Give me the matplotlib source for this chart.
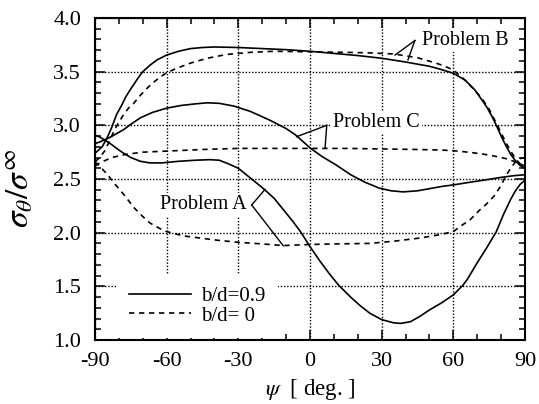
import matplotlib
matplotlib.use("Agg")
import matplotlib.pyplot as plt
from matplotlib.ticker import MultipleLocator

plt.rcParams['font.family'] = ['Liberation Serif', 'DejaVu Serif']
plt.rcParams['mathtext.fontset'] = 'stix'

# ---------------- data ----------------
psi_B09 = [-90, -87, -85, -83, -81, -79, -77, -75, -72, -70, -67, -64, -60, -55, -50, -45, -40,
           -30, -20, -10, 0, 10, 20, 30, 40, 50, 55, 60, 65, 69, 72, 74, 76, 78, 80, 82, 84, 86, 88, 90]
val_B09 = [2.74, 2.80, 2.88, 2.98, 3.10, 3.18, 3.27, 3.34, 3.44, 3.50, 3.56, 3.61, 3.655, 3.69, 3.715,
           3.725, 3.73, 3.725, 3.715, 3.705, 3.69, 3.67, 3.65, 3.625, 3.59, 3.55, 3.52, 3.485, 3.42,
           3.33, 3.235, 3.17, 3.09, 3.00, 2.90, 2.81, 2.73, 2.67, 2.625, 2.60]

psi_B0 = [-90, -88, -86, -84, -82, -80, -78, -76, -74, -71, -68, -65, -62, -60, -56, -50, -43, -35,
          -25, -15, 0, 15, 25, 35, 45, 52, 56, 60, 64, 68, 72, 75, 78, 80, 82, 84, 86, 88, 90]
val_B0 = [2.66, 2.70, 2.76, 2.85, 2.95, 3.03, 3.10, 3.16, 3.20, 3.28, 3.35, 3.41, 3.46, 3.49, 3.53,
          3.58, 3.625, 3.66, 3.68, 3.69, 3.685, 3.68, 3.675, 3.665, 3.63, 3.585, 3.555, 3.515, 3.44,
          3.35, 3.25, 3.15, 3.02, 2.93, 2.84, 2.76, 2.69, 2.64, 2.60]

psi_C09 = [-90, -88, -86, -84, -82, -78, -75, -71, -66, -60, -54, -48, -43, -38, -32, -25, -17, -10,
           -6, 0, 5, 11, 17, 23, 29, 34, 39, 45, 50, 55, 60, 67, 73, 80, 85, 90]
val_C09 = [2.83, 2.845, 2.865, 2.885, 2.91, 2.96, 3.01, 3.07, 3.12, 3.16, 3.185, 3.20, 3.21, 3.205,
           3.18, 3.13, 3.05, 2.97, 2.91, 2.79, 2.71, 2.63, 2.54, 2.47, 2.415, 2.39, 2.38, 2.39, 2.41,
           2.43, 2.445, 2.47, 2.49, 2.515, 2.53, 2.54]

psi_C0 = [-90, -88, -86, -83, -80, -77, -70, -60, -45, -30, -15, 0, 15, 30, 45, 55, 62, 68, 73, 78,
          82, 86, 90]
val_C0 = [2.62, 2.65, 2.67, 2.70, 2.715, 2.73, 2.75, 2.76, 2.775, 2.785, 2.785, 2.785, 2.785, 2.78,
          2.775, 2.77, 2.76, 2.745, 2.73, 2.71, 2.69, 2.66, 2.62]

psi_A09 = [-90, -88, -86, -83, -80, -78, -75, -71, -67, -62, -55, -48, -42, -38, -34, -30, -25, -20,
           -15, -11, -7, -4, 0, 4, 8, 12, 17, 21, 25, 30, 35, 38, 42, 46, 50, 55, 60, 64, 66, 70, 74,
           78, 81, 84, 86, 88, 90]
val_A09 = [2.91, 2.89, 2.865, 2.82, 2.77, 2.74, 2.70, 2.665, 2.65, 2.65, 2.665, 2.675, 2.68, 2.675,
           2.64, 2.60, 2.51, 2.42, 2.32, 2.21, 2.10, 2.01, 1.87, 1.74, 1.62, 1.51, 1.40, 1.32, 1.25,
           1.19, 1.16, 1.155, 1.17, 1.22, 1.28, 1.345, 1.42, 1.51, 1.57, 1.72, 1.86, 2.01, 2.17,
           2.31, 2.39, 2.45, 2.49]

psi_A0 = [-90, -88, -86, -84, -82, -80, -77, -74, -70, -67, -63, -60, -53, -46, -39, -30, -20, -11,
          0, 10, 25, 35, 46, 54, 60, 63, 67, 71, 74, 77, 80, 82, 84, 86, 88, 90]
val_A0 = [2.66, 2.62, 2.57, 2.52, 2.46, 2.41, 2.33, 2.24, 2.15, 2.09, 2.04, 2.01, 1.97, 1.95, 1.93,
          1.91, 1.895, 1.88, 1.89, 1.895, 1.90, 1.92, 1.95, 1.98, 2.01, 2.06, 2.12, 2.21, 2.27, 2.34,
          2.44, 2.53, 2.60, 2.66, 2.69, 2.70]

x_ticks = [-90, -60, -30, 0, 30, 60, 90]
y_ticks = [1.0, 1.5, 2.0, 2.5, 3.0, 3.5, 4.0]
legend_labels = ['b/d=0.9', 'b/d= 0']

# annotation text positions and leader lines (vertex, end on curve 1, end on curve 2)
labels = {
    'Problem B': dict(text=(47.0, 3.795), vertex=(43.9, 3.79), ends=[(35.6, 3.655), (41.0, 3.61)]),
    'Problem C': dict(text=(9.8, 3.025), vertex=(7.0, 3.0), ends=[(-5.6, 2.894), (6.3, 2.786)]),
    'Problem A': dict(text=(-62.8, 2.265), vertex=(-24.4, 2.258), ends=[(-18.8, 2.404), (-11.2, 1.878)]),
}

# ---------------- figure ----------------
fig = plt.figure(figsize=(5.39, 4.04), dpi=100)
ax = fig.add_axes([95 / 539, 1 - 340 / 404, 430 / 539, 322 / 404])

lw = 1.2
dash = (0, (3.2, 2.8))
for p, v in [(psi_B09, val_B09), (psi_C09, val_C09), (psi_A09, val_A09)]:
    ax.plot(p, v, color='black', lw=lw, solid_joinstyle='round', zorder=3)
for p, v in [(psi_B0, val_B0), (psi_C0, val_C0), (psi_A0, val_A0)]:
    ax.plot(p, v, color='black', lw=lw, linestyle=dash, zorder=3)

ax.set_xlim(-90, 90)
ax.set_ylim(1.0, 4.0)
ax.set_xticks(x_ticks)
ax.set_yticks(y_ticks)
ax.set_xticklabels([str(t) for t in x_ticks])
ax.set_yticklabels([f'{t:.1f}' for t in y_ticks])
ax.xaxis.set_minor_locator(MultipleLocator(10))
ax.yaxis.set_minor_locator(MultipleLocator(0.1))
ax.tick_params(which='both', direction='in', top=True, right=True, labelsize=16, width=1.1)
ax.tick_params(which='major', length=7)
ax.tick_params(axis='x', which='major', pad=9)
ax.tick_params(axis='y', which='major', pad=10)
ax.tick_params(which='minor', length=4.5)
for s in ax.spines.values():
    s.set_linewidth(1.5)

ax.grid(True, which='major', color='black', linestyle=(0, (1, 1.3)), linewidth=1.0)
ax.set_axisbelow(True)

ax.set_xlabel(r'$\psi$  [ deg. ]', fontsize=16.5, labelpad=4)
ax.set_ylabel(r'$\sigma_\theta/\sigma^\infty$', fontsize=24)
ax.yaxis.set_label_coords(-0.138, 0.47)

for name, d in labels.items():
    ax.text(d['text'][0], d['text'][1], name, fontsize=14.5, ha='left', va='center', zorder=4,
            bbox=dict(facecolor='white', edgecolor='none', pad=1.5))
    for e in d['ends']:
        ax.plot([d['vertex'][0], e[0]], [d['vertex'][1], e[1]], color='black', lw=1.0, zorder=4)

handles = [plt.Line2D([], [], color='black', lw=lw),
           plt.Line2D([], [], color='black', lw=lw, linestyle=dash)]
leg = ax.legend(handles, legend_labels, loc='lower left', bbox_to_anchor=(0.049, 0.006),
                fontsize=15, frameon=True, handlelength=3.0, handletextpad=0.5,
                labelspacing=0.0, borderpad=0.6, borderaxespad=0.0)
leg.get_frame().set_facecolor('white')
leg.get_frame().set_edgecolor('none')
leg.get_frame().set_alpha(1.0)
leg.get_frame().set_boxstyle('square', pad=0.0)
leg.set_zorder(5)

fig.savefig('out.png', dpi=100)
